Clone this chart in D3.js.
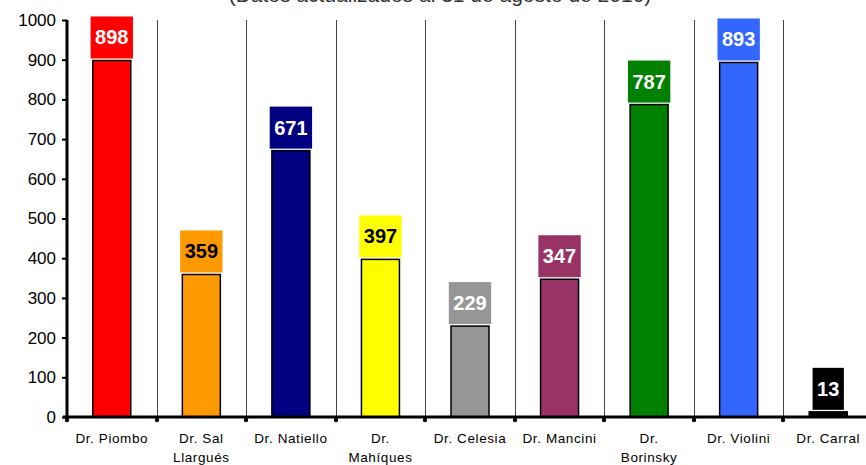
<!DOCTYPE html>
<html>
<head>
<meta charset="utf-8">
<script src="https://cdn.jsdelivr.net/npm/d3@7"></script>
<style>
  html, body { margin: 0; padding: 0; background: #fff; }
  svg { display: block; font-family: "Liberation Sans", Arial, sans-serif; }
</style>
</head>
<body>
<div id="chart"></div>
<script>
// datos
const categories = ["Dr. Piombo", "Dr. Sal Llargués", "Dr. Natiello", "Dr. Mahíques", "Dr. Celesia",
  "Dr. Mancini", "Dr. Borinsky", "Dr. Violini", "Dr. Carral"];
const labelLines = [["Dr. Piombo"], ["Dr. Sal", "Llargués"], ["Dr. Natiello"], ["Dr.", "Mahíques"],
  ["Dr. Celesia"], ["Dr. Mancini"], ["Dr.", "Borinsky"], ["Dr. Violini"], ["Dr. Carral"]];
const values = [898, 359, 671, 397, 229, 347, 787, 893, 13];
const colors = ["#ff0000", "#ff9900", "#000080", "#ffff00", "#969696", "#993366", "#008000", "#3366ff", "#000000"];
const labelColors = ["#fff", "#000", "#fff", "#000", "#fff", "#fff", "#fff", "#fff", "#fff"];
const yTicks = [0, 100, 200, 300, 400, 500, 600, 700, 800, 900, 1000];
const title = "(Datos actualizados al 31 de agosto de 2010)";

const width = 866, height = 465;
const margin = { top: 20, right: -7, bottom: 48, left: 67 };
const plotH = height - margin.top - margin.bottom;

const svg = d3.select("#chart").append("svg")
  .attr("width", width).attr("height", height);

// la última categoría queda algo recortada por el borde derecho, como en el original
const x = d3.scaleBand().domain(categories).range([margin.left, width - margin.right]);
const y = d3.scaleLinear().domain([0, 1000]).range([margin.top + plotH, margin.top]);

// título (cortado arriba en el original)
svg.append("text")
  .attr("x", 440).attr("y", 1.5)
  .attr("text-anchor", "middle")
  .attr("font-size", 21)
  .attr("fill", "#333")
  .text(title);

// separadores verticales entre categorías
svg.append("g").selectAll("line")
  .data(categories.slice(1))
  .join("line")
  .attr("x1", (d) => Math.round(x(d)) + 0.5)
  .attr("x2", (d) => Math.round(x(d)) + 0.5)
  .attr("y1", y(1000)).attr("y2", y(0))
  .attr("stroke", "#444").attr("stroke-width", 1);

// barras
svg.append("g").selectAll("rect")
  .data(values)
  .join("rect")
  .attr("x", (d, i) => x(categories[i]) + x.bandwidth() / 2 - 19)
  .attr("width", 38)
  .attr("y", (d) => y(d))
  .attr("height", (d) => y(0) - y(d))
  .attr("fill", (d, i) => colors[i])
  .attr("stroke", "#000").attr("stroke-width", 1.5);

// etiquetas de valor en cajas
const lab = svg.append("g").selectAll("g")
  .data(values)
  .join("g")
  .attr("transform", (d, i) => `translate(${x(categories[i]) + x.bandwidth() / 2},${y(d) - 2})`);

lab.each(function (d, i) {
  const g = d3.select(this);
  const t = g.append("text")
    .attr("text-anchor", "middle")
    .attr("y", -14)
    .attr("font-size", 20)
    .attr("font-weight", "bold")
    .attr("fill", labelColors[i])
    .text(d);
  const w = t.node().getComputedTextLength() + 9;
  g.insert("rect", "text")
    .attr("x", -w / 2).attr("width", w)
    .attr("y", -42).attr("height", 42)
    .attr("fill", colors[i]);
});

// eje y
const yAxis = svg.append("g")
  .attr("transform", `translate(${margin.left},0)`)
  .call(d3.axisLeft(y).tickValues(yTicks).tickFormat(d3.format("d")).tickSize(5).tickPadding(6));
yAxis.select(".domain").attr("stroke-width", 3).attr("d", `M0,${y(1000)}V${y(0)}`);
yAxis.selectAll(".tick line").attr("stroke-width", 2);
yAxis.selectAll("text").attr("font-size", 17).attr("fill", "#000")
  .attr("font-family", "Liberation Sans, Arial, sans-serif");

// eje x
const xAxis = svg.append("g").attr("transform", `translate(0,${y(0)})`);
xAxis.append("line")
  .attr("x1", margin.left - 4).attr("x2", width)
  .attr("stroke", "#000").attr("stroke-width", 3);
const bounds = categories.map((c) => Math.round(x(c)));
xAxis.selectAll("circle")
  .data(bounds)
  .join("circle")
  .attr("cx", (d) => d).attr("cy", 3).attr("r", 2.2).attr("fill", "#000");

svg.append("g").selectAll("text")
  .data(labelLines)
  .join("text")
  .attr("x", (d, i) => x(categories[i]) + x.bandwidth() / 2)
  .attr("y", 443)
  .attr("text-anchor", "middle")
  .attr("font-size", 13.5)
  .attr("letter-spacing", 0.6)
  .attr("fill", "#000")
  .each(function (lines) {
    d3.select(this).selectAll("tspan")
      .data(lines)
      .join("tspan")
      .attr("x", d3.select(this).attr("x"))
      .attr("dy", (d, j) => (j === 0 ? 0 : 19))
      .text((d) => d);
  });
</script>
</body>
</html>
